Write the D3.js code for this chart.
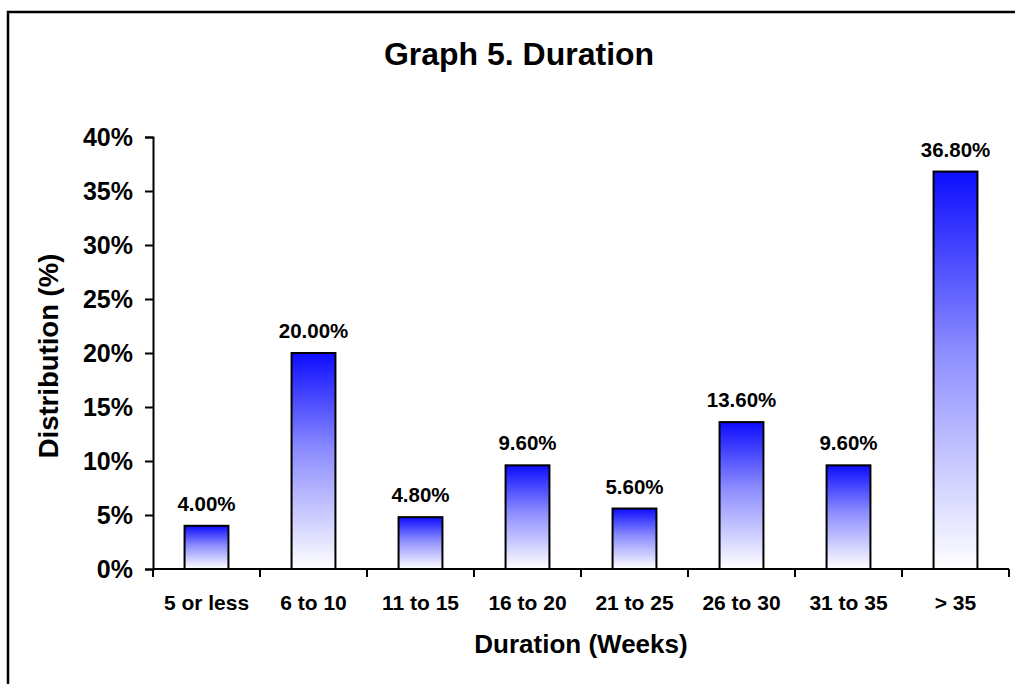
<!DOCTYPE html>
<html>
<head>
<meta charset="utf-8">
<script src="https://cdn.jsdelivr.net/npm/d3@7/dist/d3.min.js"></script>
<style>
  html, body { margin: 0; padding: 0; background: #fff; }
  svg { display: block; font-family: "Liberation Sans", Arial, sans-serif; font-weight: bold; }
</style>
</head>
<body>
<svg id="chart" width="1015" height="684"></svg>
<script>
// Duration buckets (weeks) and share of cases in each
const categories = ["5 or less", "6 to 10", "11 to 15", "16 to 20", "21 to 25", "26 to 30", "31 to 35", "> 35"];
const shares = [4.0, 20.0, 4.8, 9.6, 5.6, 13.6, 9.6, 36.8];
const yTicks = [0, 5, 10, 15, 20, 25, 30, 35, 40];

const svg = d3.select("#chart");
const plot = { left: 153, right: 1009, top: 137, bottom: 569 };

// outer frame
svg.append("rect")
  .attr("x", 8).attr("y", 12)
  .attr("width", 1100).attr("height", 800)
  .attr("fill", "#fff").attr("stroke", "#000").attr("stroke-width", 2.5);

const defs = svg.append("defs");
const grad = defs.append("linearGradient")
  .attr("id", "barFill").attr("x1", 0).attr("y1", 0).attr("x2", 0).attr("y2", 1);
grad.append("stop").attr("offset", "0%").attr("stop-color", "#0d0dff");
grad.append("stop").attr("offset", "45%").attr("stop-color", "#8c8cff");
grad.append("stop").attr("offset", "100%").attr("stop-color", "#ffffff");

const x = d3.scaleBand().domain(categories).range([plot.left, plot.right]).paddingInner(0.59).paddingOuter(0.295);
const xb = d3.scaleBand().domain(categories).range([plot.left, plot.right]);
const y = d3.scaleLinear().domain([0, 40]).range([plot.bottom, plot.top]);

// bars
svg.append("g").selectAll("rect").data(shares).join("rect")
  .attr("x", (d, i) => x(categories[i]))
  .attr("y", d => y(d))
  .attr("width", x.bandwidth())
  .attr("height", d => y(0) - y(d))
  .attr("fill", "url(#barFill)")
  .attr("stroke", "#000").attr("stroke-width", 2);

// value labels
svg.append("g").selectAll("text").data(shares).join("text")
  .attr("x", (d, i) => xb(categories[i]) + xb.bandwidth() / 2)
  .attr("y", d => y(d) - 15)
  .attr("text-anchor", "middle")
  .attr("font-size", 20.5)
  .text(d => d.toFixed(2) + "%");

// y axis
const yAxis = svg.append("g")
  .attr("transform", `translate(${plot.left},0)`)
  .call(d3.axisLeft(y).tickValues(yTicks).tickFormat(d => d + "%").tickSize(8).tickPadding(12));
yAxis.selectAll("text").attr("font-size", 25).attr("font-family", "Liberation Sans, Arial, sans-serif").attr("font-weight", "bold").attr("fill", "#000").attr("dy", "0.35em");
yAxis.selectAll("line, path").attr("stroke", "#000").attr("stroke-width", 2);

// x axis with ticks at band edges
const xAxis = svg.append("g").attr("transform", `translate(0,${plot.bottom})`);
xAxis.append("line")
  .attr("x1", plot.left).attr("x2", plot.right)
  .attr("stroke", "#000").attr("stroke-width", 2);
const edges = categories.map(c => xb(c)).concat([plot.right]);
xAxis.selectAll(".tk").data(edges).join("line")
  .attr("class", "tk")
  .attr("x1", d => d).attr("x2", d => d)
  .attr("y1", 0).attr("y2", 8)
  .attr("stroke", "#000").attr("stroke-width", 2);
xAxis.selectAll("text").data(categories).join("text")
  .attr("x", d => xb(d) + xb.bandwidth() / 2)
  .attr("y", 41)
  .attr("text-anchor", "middle")
  .attr("font-size", 21)
  .text(d => d);

// titles
svg.append("text")
  .attr("x", 519).attr("y", 65)
  .attr("text-anchor", "middle")
  .attr("font-size", 32)
  .text("Graph 5. Duration");

svg.append("text")
  .attr("x", 581).attr("y", 653)
  .attr("text-anchor", "middle")
  .attr("font-size", 26)
  .text("Duration (Weeks)");

svg.append("text")
  .attr("transform", "translate(58,356) rotate(-90)")
  .attr("text-anchor", "middle")
  .attr("font-size", 27.5)
  .text("Distribution (%)");
</script>
</body>
</html>
